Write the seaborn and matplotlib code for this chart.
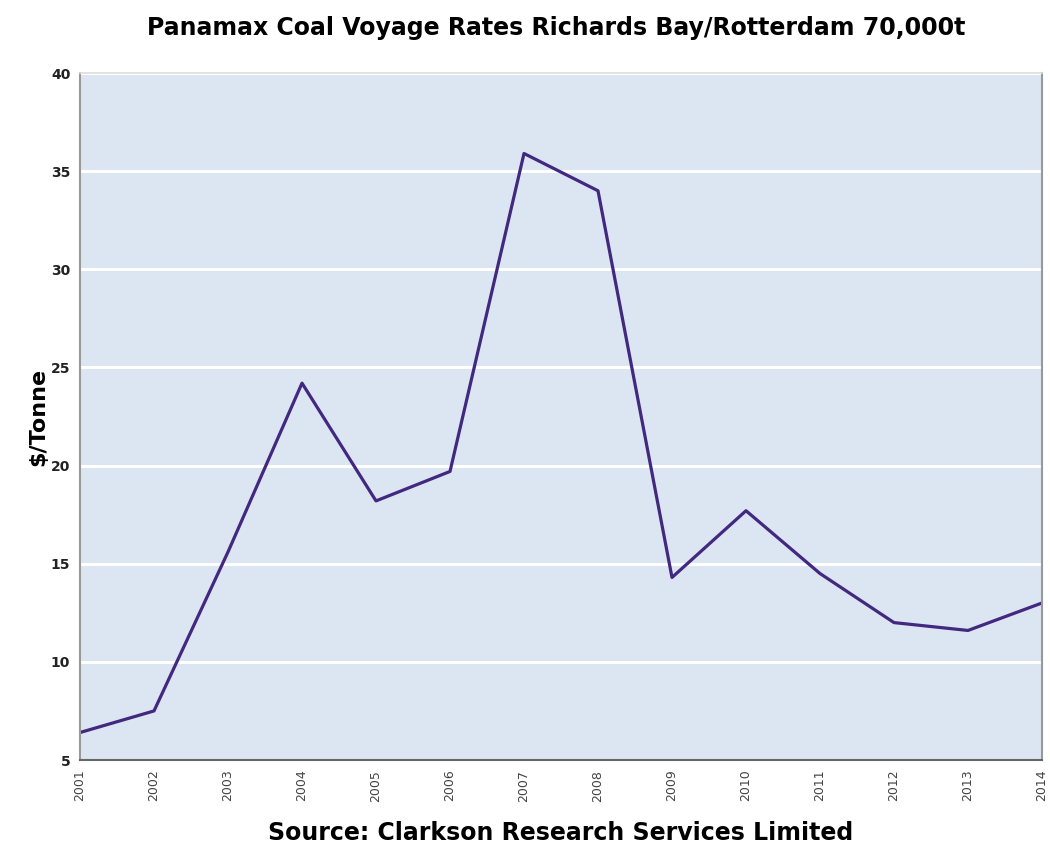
import matplotlib
matplotlib.use("Agg")
import matplotlib.pyplot as plt
import seaborn as sns
import pandas as pd

# Annual Panamax coal voyage rates, Richards Bay -> Rotterdam, 70,000t
years = [2001, 2002, 2003, 2004, 2005, 2006, 2007, 2008, 2009, 2010, 2011, 2012, 2013, 2014]
rates = [6.4, 7.5, 15.6, 24.2, 18.2, 19.7, 35.9, 34.0, 14.3, 17.7, 14.5, 12.0, 11.6, 13.0]
y_ticks = [5, 10, 15, 20, 25, 30, 35, 40]

df = pd.DataFrame({"Year": years, "Rate": rates})

sns.set_theme(style="white")
plt.rcParams["font.family"] = ["DejaVu Sans"]

fig = plt.figure(figsize=(10.5, 8.47), dpi=100)
ax = fig.add_axes([80 / 1050, 1 - 760 / 847, 962 / 1050, 687 / 847])
ax.set_facecolor("#dce6f2")

sns.lineplot(data=df, x="Year", y="Rate", ax=ax, color="#42287f", linewidth=2.3)

ax.set_xlim(years[0], years[-1])
ax.set_ylim(5, 40)
ax.set_yticks(y_ticks)
ax.set_xticks(years)
ax.set_xticklabels([str(y) for y in years], rotation=90, fontsize=9, color="#444444")
ax.set_yticklabels([str(t) for t in y_ticks], fontsize=10, fontweight="bold", color="#222222")
ax.tick_params(axis="both", length=0, pad=7)

ax.yaxis.grid(True, color="white", linewidth=2.2)
ax.xaxis.grid(False)
ax.set_axisbelow(True)

for side, col, lw in [("left", "#999999", 1.5), ("bottom", "#666666", 1.5),
                      ("top", "#dddddd", 1.2), ("right", "#999999", 1.5)]:
    ax.spines[side].set_visible(True)
    ax.spines[side].set_color(col)
    ax.spines[side].set_linewidth(lw)

ax.set_xlabel("Source: Clarkson Research Services Limited", fontsize=17,
              fontweight="bold", color="black", labelpad=14)
ax.set_ylabel(r"\$/Tonne", fontsize=16, fontweight="bold", color="black", labelpad=2)

fig.text(556 / 1050, 1 - 28 / 847, "Panamax Coal Voyage Rates Richards Bay/Rotterdam 70,000t",
         ha="center", va="center", fontsize=17, fontweight="bold", color="black")

fig.savefig("out.png", dpi=100, facecolor="white")
